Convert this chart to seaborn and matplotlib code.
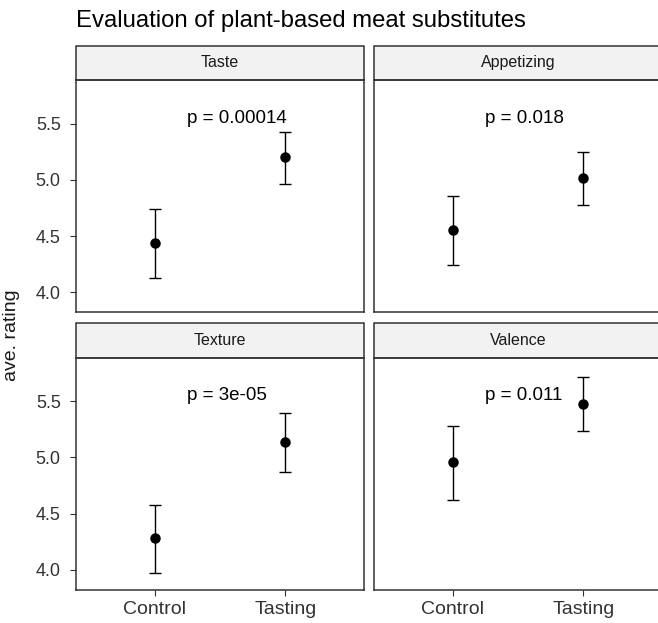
import numpy as np
import pandas as pd
import matplotlib
matplotlib.use("Agg")
import matplotlib.pyplot as plt
import seaborn as sns
from matplotlib.patches import Rectangle

# values
attributes = ["Taste", "Appetizing", "Texture", "Valence"]
groups = ["Control", "Tasting"]
mean_control = [4.44, 4.55, 4.28, 4.96]
mean_tasting = [5.20, 5.02, 5.14, 5.48]
low_control = [4.13, 4.24, 3.97, 4.62]
high_control = [4.74, 4.86, 4.58, 5.28]
low_tasting = [4.96, 4.78, 4.87, 5.24]
high_tasting = [5.43, 5.25, 5.40, 5.72]
p_labels = ["p = 0.00014", "p = 0.018", "p = 3e-05", "p = 0.011"]
y_ticks = [4.0, 4.5, 5.0, 5.5]

rows = []
for i, att in enumerate(attributes):
    rows.append({"attribute": att, "group": groups[0], "mean": mean_control[i],
                 "low": low_control[i], "high": high_control[i]})
    rows.append({"attribute": att, "group": groups[1], "mean": mean_tasting[i],
                 "low": low_tasting[i], "high": high_tasting[i]})
df = pd.DataFrame(rows)

sns.set_style("white")
plt.rcParams["font.family"] = ["Liberation Sans", "DejaVu Sans"]


def draw_panel(data, **kws):
    ax = plt.gca()
    pos = np.arange(len(data))
    ax.errorbar(pos, data["mean"],
                yerr=[data["mean"] - data["low"], data["high"] - data["mean"]],
                fmt="none", ecolor="black", elinewidth=1.0, capsize=4.5,
                capthick=1.0, zorder=2)
    sns.pointplot(data=data, x="group", y="mean", order=groups, color="black",
                  linestyle="none", errorbar=None, markersize=5.5, ax=ax)


g = sns.FacetGrid(df, col="attribute", col_order=attributes, col_wrap=2,
                  sharex=True, sharey=True, height=3, aspect=1)
g.map_dataframe(draw_panel)

fig = g.figure
fig.set_size_inches(6.58, 6.23)
W, H = 658, 623
fig.subplots_adjust(left=76 / W, right=662 / W, top=1 - 80 / H,
                    bottom=1 - 590 / H, wspace=10 / 288, hspace=45 / 232)

strip_h = 34 / 232
for k, (ax, att, lab) in enumerate(zip(g.axes.flat, attributes, p_labels)):
    ax.set_title("")
    ax.set_xlabel("")
    ax.set_ylabel("")
    ax.set_xlim(-0.6, 1.6)
    ax.set_ylim(3.82, 5.89)
    ax.set_yticks(y_ticks)
    ax.set_yticklabels([f"{t:.1f}" for t in y_ticks])
    for s in ax.spines.values():
        s.set_visible(True)
        s.set_color("#333333")
        s.set_linewidth(1.1)
    left_col = k % 2 == 0
    bottom_row = k >= 2
    ax.tick_params(axis="y", left=left_col, labelleft=left_col, length=4,
                   width=0.8, color="#333333", labelcolor="#333333",
                   labelsize=13, pad=7)
    ax.tick_params(axis="x", bottom=bottom_row, labelbottom=bottom_row,
                   length=4, width=0.8, color="#333333", labelcolor="#333333",
                   labelsize=14, pad=4)
    strip = Rectangle((0, 1), 1, strip_h, transform=ax.transAxes,
                      facecolor="#F2F2F2", edgecolor="#333333", linewidth=1.1,
                      clip_on=False)
    ax.add_patch(strip)
    ax.text(0.5, 1 + strip_h / 2, att, transform=ax.transAxes, ha="center",
            va="center", fontsize=11.5, color="#1A1A1A")
    ax.text(0.25, 5.55, lab, ha="left", va="center", fontsize=13.5,
            color="black")

fig.text(76 / W, 1 - 21 / H, "Evaluation of plant-based meat substitutes",
         ha="left", va="center", fontsize=17.2, color="black")
fig.text(12 / W, 1 - 335 / H, "ave. rating", rotation=90, ha="center",
         va="center", fontsize=14, color="#1A1A1A")

fig.savefig("out.png", dpi=100)
